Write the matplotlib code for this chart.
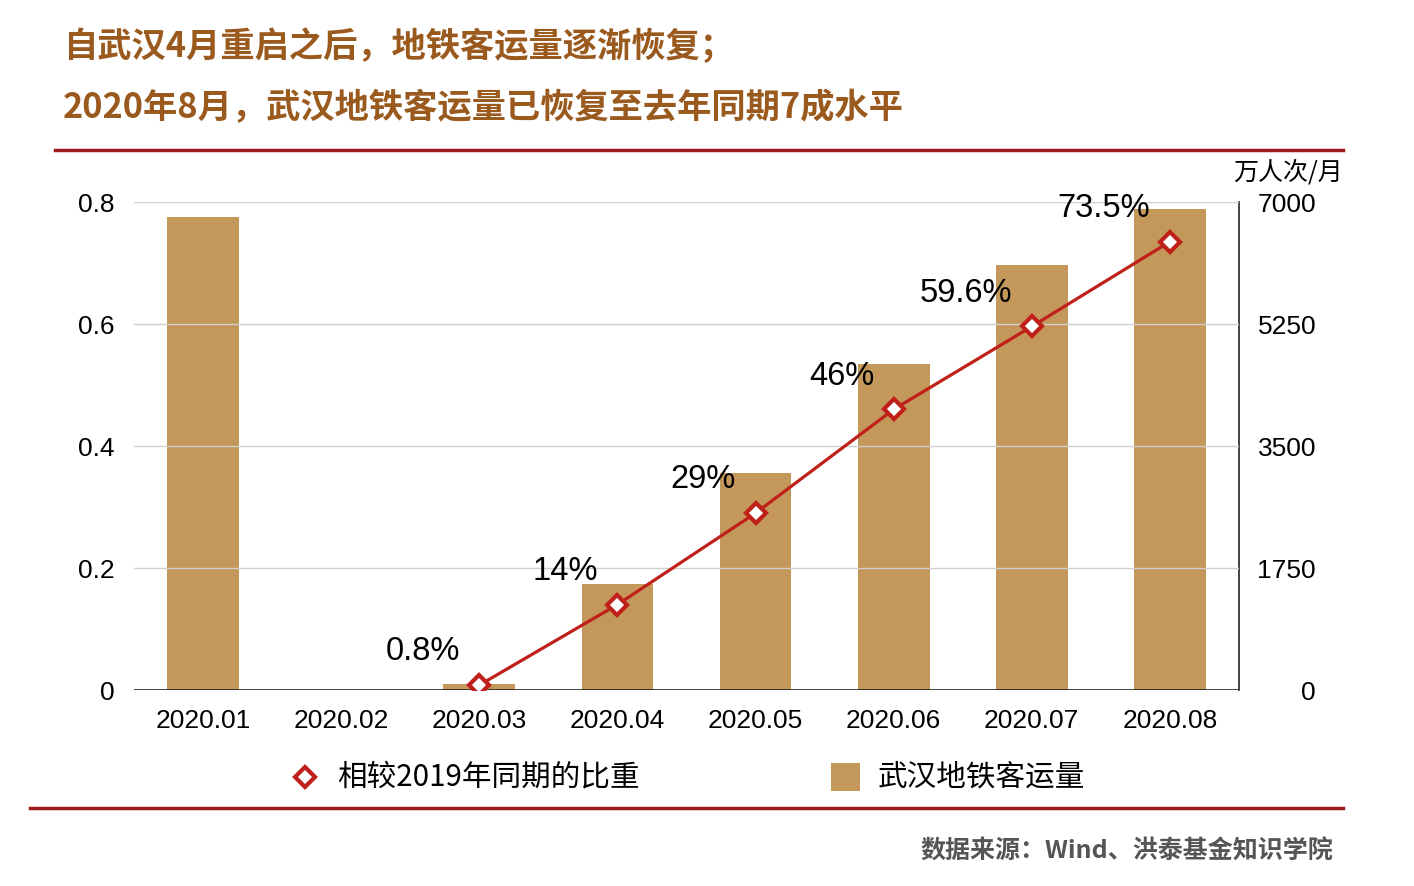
import matplotlib
matplotlib.use("Agg")
import matplotlib.pyplot as plt
from matplotlib.lines import Line2D
from matplotlib.patches import Rectangle

plt.rcParams['font.family'] = ['Noto Sans CJK SC', 'DejaVu Sans']

months = ["2020.01", "2020.02", "2020.03", "2020.04", "2020.05", "2020.06", "2020.07", "2020.08"]
ridership = [6785, 0, 86, 1520, 3113, 4676, 6096, 6900]
ratio_months = ["2020.03", "2020.04", "2020.05", "2020.06", "2020.07", "2020.08"]
ratio = [0.008, 0.14, 0.29, 0.46, 0.596, 0.735]
ratio_labels = ["0.8%", "14%", "29%", "46%", "59.6%", "73.5%"]
left_ticks = [0, 0.2, 0.4, 0.6, 0.8]
left_ticklabels = ["0", "0.2", "0.4", "0.6", "0.8"]
right_ticks = [0, 1750, 3500, 5250, 7000]
right_ticklabels = ["0", "1750", "3500", "5250", "7000"]

title1 = "自武汉4月重启之后，地铁客运量逐渐恢复；"
title2 = "2020年8月，武汉地铁客运量已恢复至去年同期7成水平"
source = "数据来源：Wind、洪泰基金知识学院"
legend_line = "相较2019年同期的比重"
legend_bar = "武汉地铁客运量"
unit = "万人次/月"

bar_color = "#c4975a"
line_color = "#c0201a"
title_color = "#9a5a1e"
rule_color = "#9b1b1b"
num_font = ['Liberation Sans', 'DejaVu Sans']

W, H = 1414, 886
fig = plt.figure(figsize=(W/100, H/100), dpi=100)
ax = fig.add_axes([134/W, 1-690/H, (1239-134)/W, (690-202)/H])
ax2 = ax.twinx()
ax.set_zorder(ax2.get_zorder() + 1)
ax.patch.set_visible(False)

x = list(range(len(months)))
ax2.bar(x, ridership, width=0.52, color=bar_color, zorder=2)
ax2.set_ylim(0, 7000)
ax2.set_yticks(right_ticks)
ax2.set_yticklabels(right_ticklabels, fontsize=19, family=num_font)
for lab in ax2.get_yticklabels():
    lab.set_horizontalalignment('right')
ax2.tick_params(axis='y', length=0, pad=55.5)

rx = [months.index(m) for m in ratio_months]
ax.plot(rx, ratio, color=line_color, lw=2.3, marker='D', markersize=10,
        markerfacecolor='white', markeredgecolor=line_color, markeredgewidth=3, zorder=5)
for xi, yi, lab in zip(rx, ratio, ratio_labels):
    ax.annotate(lab, (xi, yi), xytext=(-14, 24), textcoords='offset points',
                ha='right', va='center', fontsize=23.5, color='black', family=num_font)

ax.set_ylim(0, 0.8)
ax.set_xlim(-0.5, len(months) - 0.5)
ax.set_yticks(left_ticks)
ax.set_yticklabels(left_ticklabels, fontsize=19, family=num_font)
ax.set_xticks(x)
ax.set_xticklabels(months, fontsize=19, family=num_font)
ax.tick_params(axis='y', length=0, pad=14)
ax.tick_params(axis='x', length=0, pad=14)
for yv in left_ticks[1:]:
    ax.axhline(yv, color='#d0d0d0', lw=1, zorder=0)
ax.axhline(0, color='#222222', lw=1.2, zorder=1)

for a in (ax, ax2):
    for s in ['top', 'left', 'bottom']:
        a.spines[s].set_visible(False)
ax.spines['right'].set_visible(False)
ax2.spines['right'].set_color('#222222')
ax2.spines['right'].set_linewidth(1.2)

fig.text(63/W, 1-46/H, title1, fontsize=24.7, fontweight='bold', color=title_color, va='center', ha='left')
fig.text(63/W, 1-108/H, title2, fontsize=24.7, fontweight='bold', color=title_color, va='center', ha='left')
fig.add_artist(Line2D([55/W, 1343/W], [1-150/H, 1-150/H], color=rule_color, lw=2.5))
fig.add_artist(Line2D([30/W, 1343/W], [1-808/H, 1-808/H], color=rule_color, lw=2.5))
fig.text(1288/W, 1-172/H, unit, fontsize=18, ha='center', va='center', color='black')
fig.text(1333/W, 1-852/H, source, fontsize=18, fontweight='bold', color='#555555', ha='right', va='center')

# legend
fig.add_artist(Line2D([305/W], [1-777/H], color='none', marker='D', markersize=10,
                      markerfacecolor='white', markeredgecolor=line_color, markeredgewidth=3))
fig.text(337/W, 1-777/H, legend_line, fontsize=21.3, ha='left', va='center', color='black')
fig.add_artist(Rectangle((831/W, 1-791/H), 29/W, 28/H, facecolor=bar_color, edgecolor='none',
                         transform=fig.transFigure))
fig.text(878/W, 1-777/H, legend_bar, fontsize=21.3, ha='left', va='center', color='black')

fig.savefig("out.png", dpi=100)
